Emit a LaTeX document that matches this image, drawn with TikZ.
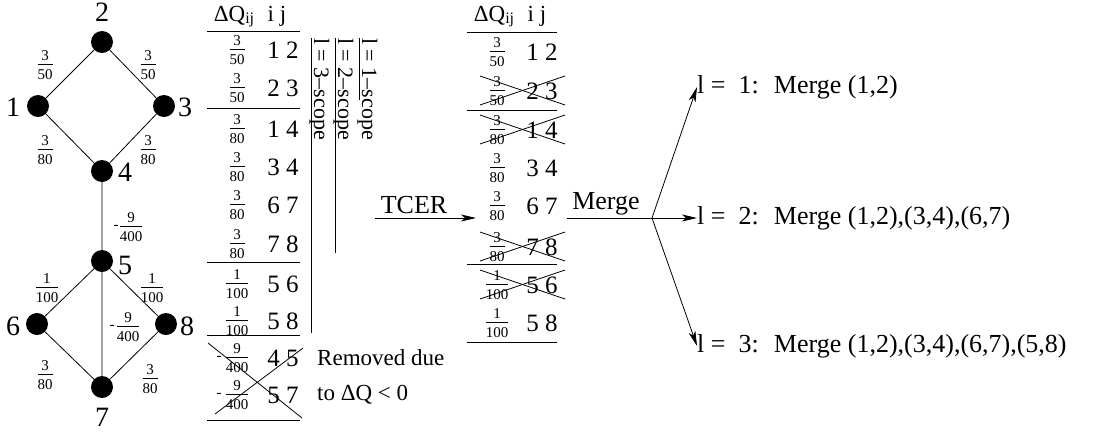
\documentclass[tikz,border=0pt]{standalone}
\usepackage{fontspec}
\setmainfont{Liberation Serif}
\usetikzlibrary{arrows.meta}
\newcommand\fr[2]{{\fontsize{25}{27}\selectfont$\frac{\hbox{\fontsize{15}{15}\selectfont #1}}{\hbox{\fontsize{15}{15}\selectfont #2}}$}}
\tikzset{
 vtx/.style={circle, fill=black, minimum size=22pt, inner sep=0pt},
 vlab/.style={font=\fontsize{28}{28}\selectfont, inner sep=0pt},
 elab/.style={inner sep=0pt},
 minus/.style={font=\fontsize{15}{15}\selectfont, inner sep=0pt},
 cell/.style={font=\fontsize{25}{25}\selectfont, inner sep=0pt},
 hdr/.style={font=\fontsize{23}{23}\selectfont, inner sep=0pt, anchor=base},
 rule/.style={line width=1pt},
 edge/.style={line width=0.8pt},
 scopeline/.style={line width=0.9pt},
 scopetext/.style={font=\fontsize{22}{22}\selectfont, rotate=-90, anchor=base west, inner sep=0pt},
 xline/.style={line width=0.8pt},
 arr/.style={-{Stealth[length=15pt,width=7pt,inset=4pt]}, line width=0.8pt},
 big/.style={font=\fontsize{26}{26}\selectfont, inner sep=0pt},
}
\newcommand\hdrtext{ΔQ\raisebox{-2pt}{\fontsize{16}{16}\selectfont ij}}
\begin{document}
\begin{tikzpicture}[x=1pt,y=-1pt]
\useasboundingbox (0,0) rectangle (1106,432);
% ---------- graph ----------
\node[vtx] (n2) at (102,42) {};
\node[vtx] (n1) at (38,106) {};
\node[vtx] (n3) at (164,106) {};
\node[vtx] (n4) at (102,171) {};
\node[vtx] (n5) at (102,261) {};
\node[vtx] (n6) at (37,324) {};
\node[vtx] (n8) at (166,324) {};
\node[vtx] (n7) at (102,387) {};
\draw[edge] (n1)--(n2) (n2)--(n3) (n1)--(n4) (n3)--(n4) (n4)--(n5)
  (n5)--(n6) (n5)--(n8) (n5)--(n7) (n6)--(n7) (n8)--(n7);
\node[vlab] (t2) at (102,12) {2};
\node[vlab] (t1) at (13,107) {1};
\node[vlab] (t3) at (185,107) {3};
\node[vlab] (t4) at (125,172) {4};
\node[vlab] (t5) at (125,265) {5};
\node[vlab] (t6) at (13,326) {6};
\node[vlab] (t8) at (187,326) {8};
\node[vlab] (t7) at (102,417) {7};
\node[elab] (e12) at (45,65) {\fr{3}{50}};
\node[elab] (e23) at (148,65) {\fr{3}{50}};
\node[elab] (e14) at (45,150) {\fr{3}{80}};
\node[elab] (e34) at (148,150) {\fr{3}{80}};
\node[minus] (m45) at (116,227) {-};
\node[elab] (e45) at (131,227) {\fr{9}{400}};
\node[elab] (e56) at (47,288) {\fr{1}{100}};
\node[elab] (e58) at (152,288) {\fr{1}{100}};
\node[minus] (m57) at (112,327) {-};
\node[elab] (e57) at (128,327) {\fr{9}{400}};
\node[elab] (e67) at (45,375) {\fr{3}{80}};
\node[elab] (e78) at (150,379) {\fr{3}{80}};
% ---------- table 1 ----------
\node[hdr] (h1a) at (234,21) {\hdrtext};
\node[hdr] (h1b) at (277,21) {i j};
\foreach \y in {31,108,262,335,420} \draw[rule] (207,\y) -- (300,\y);
\foreach \f/\p/\y [count=\k] in {{\fr{3}{50}}/1 2/50,{\fr{3}{50}}/2 3/88,{\fr{3}{80}}/1 4/129,{\fr{3}{80}}/3 4/167,{\fr{3}{80}}/6 7/205,{\fr{3}{80}}/7 8/244,{\fr{1}{100}}/5 6/284,{\fr{1}{100}}/5 8/321,{\fr{9}{400}}/4 5/358,{\fr{9}{400}}/5 7/395}{
  \node[elab] (a\k) at (237,\y) {\f};
  \node[cell] (b\k) at (283,\y) {\p};
}
\node[minus] (am9) at (219,358) {-};
\node[minus] (am10) at (219,395) {-};
\draw[xline] (208,343) -- (302,418);
\draw[xline] (215,414) -- (303,348);
\node[cell, anchor=west, font=\fontsize{23}{23}\selectfont] (rem1) at (317,358) {Removed due};
\node[cell, anchor=west, font=\fontsize{23}{23}\selectfont] (rem2) at (317,395) {to ΔQ < 0};
% scopes
\coordinate (s3a) at (311,38); \coordinate (s3b) at (311,333);
\coordinate (s2a) at (335,38); \coordinate (s2b) at (335,253);
\coordinate (s1a) at (359,38); \coordinate (s1b) at (359,100);
\draw[scopeline] (s3a) -- (s3b);
\draw[scopeline] (s2a) -- (s2b);
\draw[scopeline] (s1a) -- (s1b);
\node[scopetext] (sc3) at (314,38) {l = 3--scope};
\node[scopetext] (sc2) at (338,38) {l = 2--scope};
\node[scopetext] (sc1) at (362,38) {l = 1--scope};
% ---------- TCER arrow ----------
\coordinate (tc1) at (375,218); \coordinate (tc2) at (476,218);
\draw[arr] (tc1) -- (tc2);
\node[big] (tcer) at (414,205) {TCER};
% ---------- table 2 ----------
\node[hdr] (h2a) at (494,21) {\hdrtext};
\node[hdr] (h2b) at (537,21) {i j};
\foreach \y in {32,110,264,342} \draw[rule] (467,\y) -- (557,\y);
\foreach \f/\p/\y [count=\k] in {{\fr{3}{50}}/1 2/52,{\fr{3}{50}}/2 3/91,{\fr{3}{80}}/1 4/130,{\fr{3}{80}}/3 4/168,{\fr{3}{80}}/6 7/206,{\fr{3}{80}}/7 8/247,{\fr{1}{100}}/5 6/285,{\fr{1}{100}}/5 8/323}{
  \node[elab] (c\k) at (497,\y) {\f};
  \node[cell] (d\k) at (542,\y) {\p};
}
\foreach \y in {91,130,247,285}{
  \draw[xline] (480,\y-15) -- (565,\y+14);
  \draw[xline] (480,\y+14) -- (565,\y-15);
}
% ---------- merge ----------
\coordinate (mg0) at (567,218);
\coordinate (mj) at (652,218);
\node[big] (mergetxt) at (606,204) {Merge};
\node[big, anchor=west] (r1) at (697,87) {l = \ 1: \ Merge (1,2)};
\node[big, anchor=west] (r2) at (697,218) {l = \ 2: \ Merge (1,2),(3,4),(6,7)};
\node[big, anchor=west] (r3) at (697,346) {l = \ 3: \ Merge (1,2),(3,4),(6,7),(5,8)};
\draw[edge] (mg0) -- (mj);
\draw[arr] (mj) -- (r1.west);
\draw[arr] (mj) -- (r2.west);
\draw[arr] (mj) -- (r3.west);
\end{tikzpicture}
\end{document}
